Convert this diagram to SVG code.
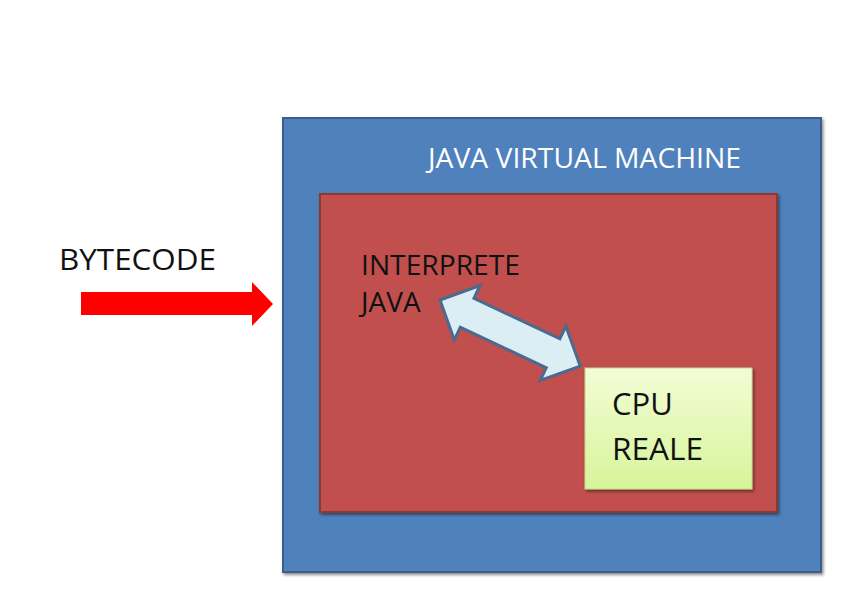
<svg xmlns="http://www.w3.org/2000/svg" width="842" height="594" viewBox="0 0 842 594">
<defs>
<linearGradient id="g" x1="0" y1="0" x2="0" y2="1">
<stop offset="0" stop-color="#f3fdd6"/>
<stop offset="1" stop-color="#d6f59a"/>
</linearGradient>
<filter id="sh" x="-10%" y="-10%" width="120%" height="120%">
<feDropShadow dx="1.5" dy="2" stdDeviation="1.5" flood-color="#000" flood-opacity="0.45"/>
</filter>
</defs>
<style>
text{font-family:"Open Sans","Liberation Sans",sans-serif}
.dark{fill:#111}
</style>
<rect width="842" height="594" fill="#fff"/>
<g id="jvm">
<rect x="283" y="118" width="538" height="454" fill="#4f81bd" stroke="#3a5f8b" stroke-width="2" filter="url(#sh)"/>
<text x="428" y="168" font-size="28" fill="#fff" textLength="313" lengthAdjust="spacingAndGlyphs">JAVA VIRTUAL MACHINE</text>
</g>
<g id="interprete">
<rect x="320" y="194" width="457" height="318" fill="#c0504d" stroke="#8c3836" stroke-width="2" filter="url(#sh)"/>
<text x="361" y="275" font-size="28" class="dark" textLength="159" lengthAdjust="spacingAndGlyphs">INTERPRETE</text>
<text x="361" y="312" font-size="28" class="dark">JAVA</text>
</g>
<g id="cpu">
<rect x="585" y="368" width="167" height="121" fill="url(#g)" stroke="#c5d98a" stroke-width="1" filter="url(#sh)"/>
<text x="612" y="415" font-size="31" class="dark">CPU</text>
<text x="612" y="460" font-size="31" class="dark" textLength="91" lengthAdjust="spacingAndGlyphs">REALE</text>
</g>
<g id="bytecode">
<text x="59" y="270" font-size="30" class="dark" textLength="157" lengthAdjust="spacingAndGlyphs">BYTECODE</text>
</g>
<g id="connectors">
<polygon points="81,292 252,292 252,282 273,304 252,326 252,315 81,315" fill="#ff0000"/>
<polygon transform="translate(440,300) rotate(25.24)" points="0,0 30,-30 30,-16 125,-16 125,-30 155,0 125,30 125,16 30,16 30,30" fill="#dbeef4" stroke="#4a6b8f" stroke-width="3" stroke-linejoin="miter"/>
</g>
</svg>
